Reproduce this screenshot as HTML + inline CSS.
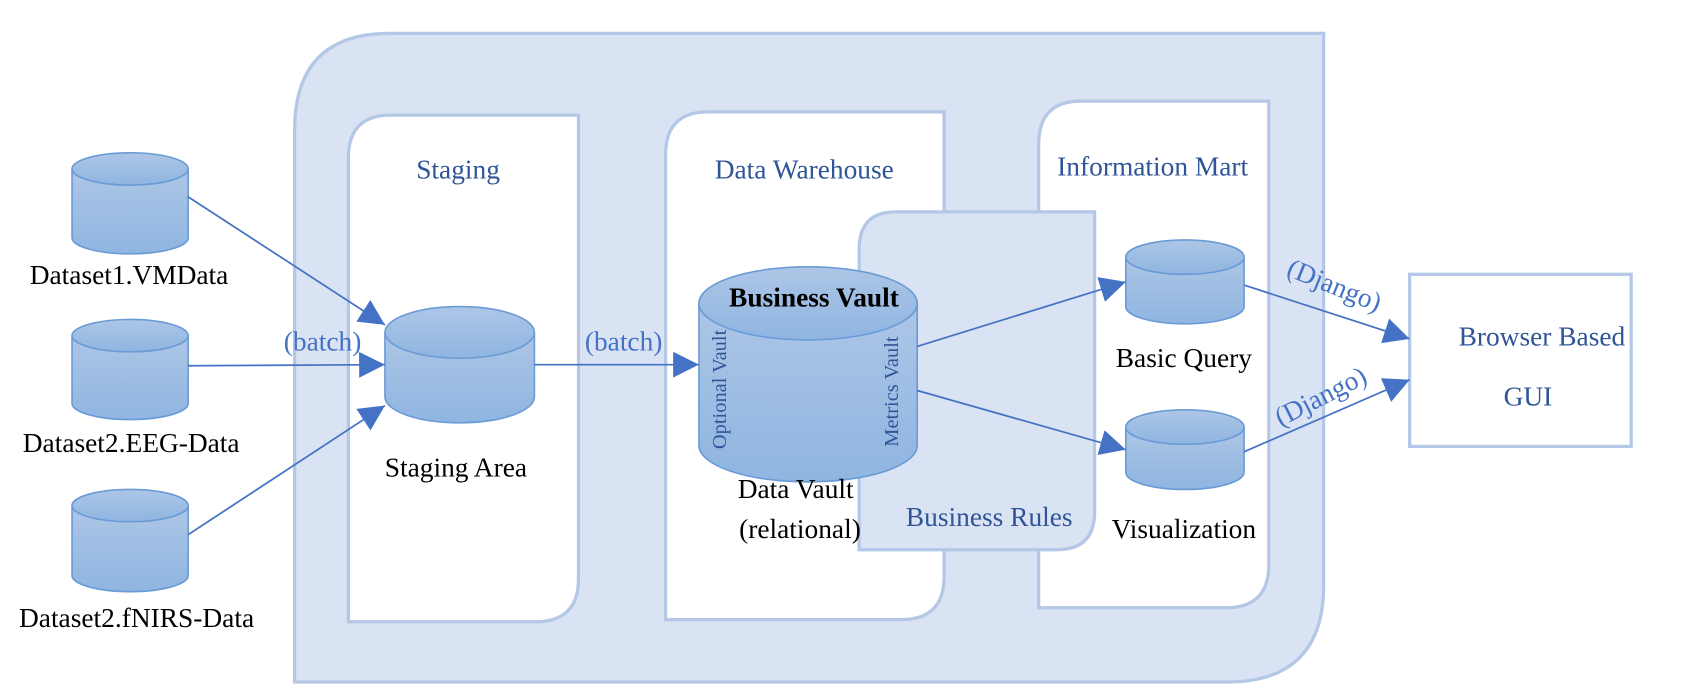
<!DOCTYPE html>
<html><head><meta charset="utf-8"><style>
html,body{margin:0;padding:0;background:#fff;}
svg{display:block;}
text{font-family:"Liberation Serif",serif;}
</style></head><body>
<svg width="1686" height="696" viewBox="0 0 1568 647" preserveAspectRatio="none" xmlns="http://www.w3.org/2000/svg">
<defs>
<linearGradient id="g" x1="0" y1="0" x2="0" y2="1"><stop offset="0" stop-color="#adc6e6"/><stop offset="1" stop-color="#8fb5e1"/></linearGradient>
<marker id="b" viewBox="0 0 10 10" refX="10" refY="5" markerWidth="24" markerHeight="24" orient="auto" markerUnits="userSpaceOnUse"><path d="M0,0L10,5L0,10z" fill="#4472c4"/></marker>
</defs>
<path d="M363,31 H1231 V544 Q1231,634 1141,634 H274 V121 Q274,31 363,31Z" fill="#dae3f3" stroke="#b4c7e7" stroke-width="3"/>
<path d="M363,107 H538 V538 Q538,578 498,578 H324 V147 Q324,107 363,107Z" fill="#fff" stroke="#b4c7e7" stroke-width="3"/>
<path d="M658,104 H878 V536 Q878,576 838,576 H619 V144 Q619,104 658,104Z" fill="#fff" stroke="#b4c7e7" stroke-width="3"/>
<path d="M1005,94 H1180 V525 Q1180,565 1140,565 H966 V134 Q966,94 1005,94Z" fill="#fff" stroke="#b4c7e7" stroke-width="3"/>
<path d="M833,197 H1018 V476 Q1018,511 983,511 H799 V232 Q799,197 833,197Z" fill="#dae3f3" stroke="#b4c7e7" stroke-width="3"/>
<rect x="1311" y="255" width="206" height="160" fill="#fff" stroke="#b4c7e7" stroke-width="3"/>
<g stroke="#6a9bd6" stroke-width="1.5" fill="url(#g)">
<path d="M67,157 V221 A54,15 0 0 0 175,221 V157"/><ellipse cx="121" cy="157" rx="54" ry="15"/>
<path d="M67,312 V375 A54,15 0 0 0 175,375 V312"/><ellipse cx="121" cy="312" rx="54" ry="15"/>
<path d="M67,470 V535 A54,15 0 0 0 175,535 V470"/><ellipse cx="121" cy="470" rx="54" ry="15"/>
<path d="M358,309 V369 A69.5,24 0 0 0 497,369 V309"/><ellipse cx="427.5" cy="309" rx="69.5" ry="24"/>
<path d="M650,282 V414 A101.5,34 0 0 0 853,414 V282"/><ellipse cx="751.5" cy="282" rx="101.5" ry="34"/>
<path d="M1047,239 V285 A55,16 0 0 0 1157,285 V239"/><ellipse cx="1102" cy="239" rx="55" ry="16"/>
<path d="M1047,397 V439 A55,16 0 0 0 1157,439 V397"/><ellipse cx="1102" cy="397" rx="55" ry="16"/>
</g>
<g stroke="#4472c4" stroke-width="1.6" fill="none" marker-end="url(#b)">
<line x1="175" y1="183" x2="358" y2="302"/>
<line x1="175" y1="340" x2="358" y2="339"/>
<line x1="175" y1="497" x2="358" y2="377"/>
<line x1="497" y1="339" x2="650" y2="339"/>
<line x1="853" y1="322" x2="1047" y2="262"/>
<line x1="853" y1="363" x2="1047" y2="418"/>
<line x1="1157" y1="265" x2="1311" y2="315"/>
<line x1="1157" y1="420" x2="1311" y2="353"/>
</g>
<g font-size="25.5" fill="#000" text-anchor="middle">
<text x="120" y="264">Dataset1.VMData</text>
<text x="122" y="420">Dataset2.EEG-Data</text>
<text x="127" y="583">Dataset2.fNIRS-Data</text>
<text x="424" y="443">Staging Area</text>
<text x="740" y="463">Data Vault</text>
<text x="744" y="500">(relational)</text>
<text x="1101" y="341">Basic Query</text>
<text x="1101" y="500">Visualization</text>
<text x="757" y="285" font-weight="bold">Business Vault</text>
</g>
<g font-size="25.5" fill="#2f5597" text-anchor="middle">
<text x="426" y="166">Staging</text>
<text x="748" y="166">Data Warehouse</text>
<text x="1072" y="163">Information Mart</text>
<text x="920" y="489">Business Rules</text>
<text x="1434" y="321">Browser Based</text>
<text x="1421" y="377">GUI</text>
</g>
<g font-size="25.5" fill="#4472c4" text-anchor="middle">
<text x="300" y="326">(batch)</text>
<text x="580" y="326">(batch)</text>
<text x="1238" y="273" transform="rotate(22 1238 273)">(Django)</text>
<text x="1232" y="376" transform="rotate(-27 1232 376)">(Django)</text>
</g>
<g font-size="19" fill="#2f5597" text-anchor="middle">
<text x="0" y="0" transform="translate(675,362) rotate(-90)">Optional Vault</text>
<text x="0" y="0" transform="translate(835,364) rotate(-90)">Metrics Vault</text>
</g>
</svg>
</body></html>
